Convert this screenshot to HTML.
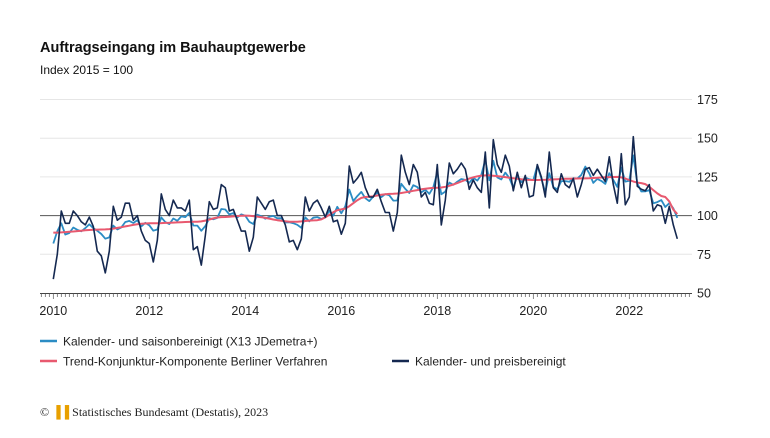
<!DOCTYPE html>
<html><head><meta charset="utf-8"><style>
body{margin:0;background:#fff;width:770px;height:433px;overflow:hidden;font-family:"Liberation Sans",sans-serif;}
</style></head><body>
<svg id="s" width="770" height="433" xmlns="http://www.w3.org/2000/svg" font-family="Liberation Sans, sans-serif">
<text x="40" y="52" font-size="14.5" font-weight="bold" fill="#111">Auftragseingang im Bauhauptgewerbe</text>
<text x="40" y="74" font-size="12" fill="#111">Index 2015 = 100</text>
<g id="grid"></g>
<g id="series"></g>
<g font-size="12" fill="#222">
<line x1="40" y1="341" x2="57" y2="341" stroke="#2b8cc4" stroke-width="2.5"/>
<text x="63" y="345.5">Kalender- und saisonbereinigt (X13 JDemetra+)</text>
<line x1="40" y1="361" x2="57" y2="361" stroke="#e8596f" stroke-width="2.5"/>
<text x="63" y="365.5">Trend-Konjunktur-Komponente Berliner Verfahren</text>
<line x1="392" y1="361" x2="409" y2="361" stroke="#142850" stroke-width="2.5"/>
<text x="415" y="365.5">Kalender- und preisbereinigt</text>
</g>
<text x="40" y="416" font-size="12" font-family="Liberation Serif, serif" fill="#222">© <tspan fill="#e8a000" font-weight="bold">▐▐</tspan> Statistisches Bundesamt (Destatis), 2023</text>
</svg>
<script>
const Y=v=>293-(v-50)*1.548, X=i=>53.3+i*4;
let g='';
[175,150,125,75].forEach(v=>{g+=`<line x1="40" x2="692" y1="${Y(v)}" y2="${Y(v)}" stroke="#e6e6e6" stroke-width="1"/>`;});
g+=`<line x1="40" x2="692" y1="${Y(100)}" y2="${Y(100)}" stroke="#555" stroke-width="1"/>`;
g+=`<line x1="40" x2="692" y1="293.5" y2="293.5" stroke="#444" stroke-width="1"/>`;
for(let i=-3;i<=160;i++){let x=X(i);if(x<40||x>692)continue;g+=`<line x1="${x}" x2="${x}" y1="293.5" y2="${i%24==0?299:297}" stroke="#555" stroke-width="0.7"/>`;}
[175,150,125,100,75,50].forEach(v=>{g+=`<text x="697" y="${Y(v)+4.5}" font-size="12.5" fill="#222">${v}</text>`;});
for(let k=0;k<7;k++){g+=`<text x="${X(k*24)}" y="315" font-size="12.5" fill="#222" text-anchor="middle">${2010+2*k}</text>`;}
document.getElementById('grid').innerHTML=g;
const d=[59,75,103,95,95,103,100,96,94,99,93,77,74,63,77,106,97,99,108,108,97,100,90,84,82,70,84,114,104,100,110,105,105,103,110,78,80,68,87,109,104,105,120,118,103,104,97,90,90,77,86,112,108,104,109,110,100,100,94,83,84,78,85,112,103,108,110,105,99,106,96,97,88,95,132,121,124,128,118,112,112,117,109,102,102,90,102,139,128,120,133,128,112,115,108,107,133,94,110,134,127,130,134,130,117,123,118,115,141,105,149,133,128,139,132,116,128,118,126,112,113,133,125,112,141,118,115,127,120,118,124,112,120,130,131,126,130,126,122,138,120,108,140,107,112,151,119,117,116,120,103,107,106,95,106,94,85];
const kp=[[0,89],[12,91],[24,95],[36,96],[42,99],[48,100],[60,96],[66,97],[72,104],[78,112],[84,114],[96,118],[108,126],[120,123],[132,124],[141,125],[147,121],[153,112],[156,101]];
function tr(i){for(let k=0;k<kp.length-1;k++){let[a,va]=kp[k],[b,vb]=kp[k+1];if(i>=a&&i<=b){let t=(i-a)/(b-a);t=t*t*(3-2*t);return va+(vb-va)*t;}}return kp[kp.length-1][1];}
let T=d.map((_,i)=>tr(i));
let seas=Array(12).fill(0),cnt=Array(12).fill(0);
d.forEach((v,i)=>{seas[i%12]+=v-T[i];cnt[i%12]++;});seas=seas.map((s,i)=>s/cnt[i]);
let B=d.map((v,i)=>T[i]+0.4*(v-T[i]-seas[i%12]));
B[0]=82;B[1]=90;
const pl=(arr,c,w)=>`<polyline fill="none" stroke="${c}" stroke-width="${w}" stroke-linejoin="round" points="${arr.map((v,i)=>X(i).toFixed(1)+','+Y(v).toFixed(1)).join(' ')}"/>`;
document.getElementById('series').innerHTML=pl(B,'#2b8cc4',1.8)+pl(T,'#e8596f',2)+pl(d,'#142850',1.6);
</script>
</body></html>
